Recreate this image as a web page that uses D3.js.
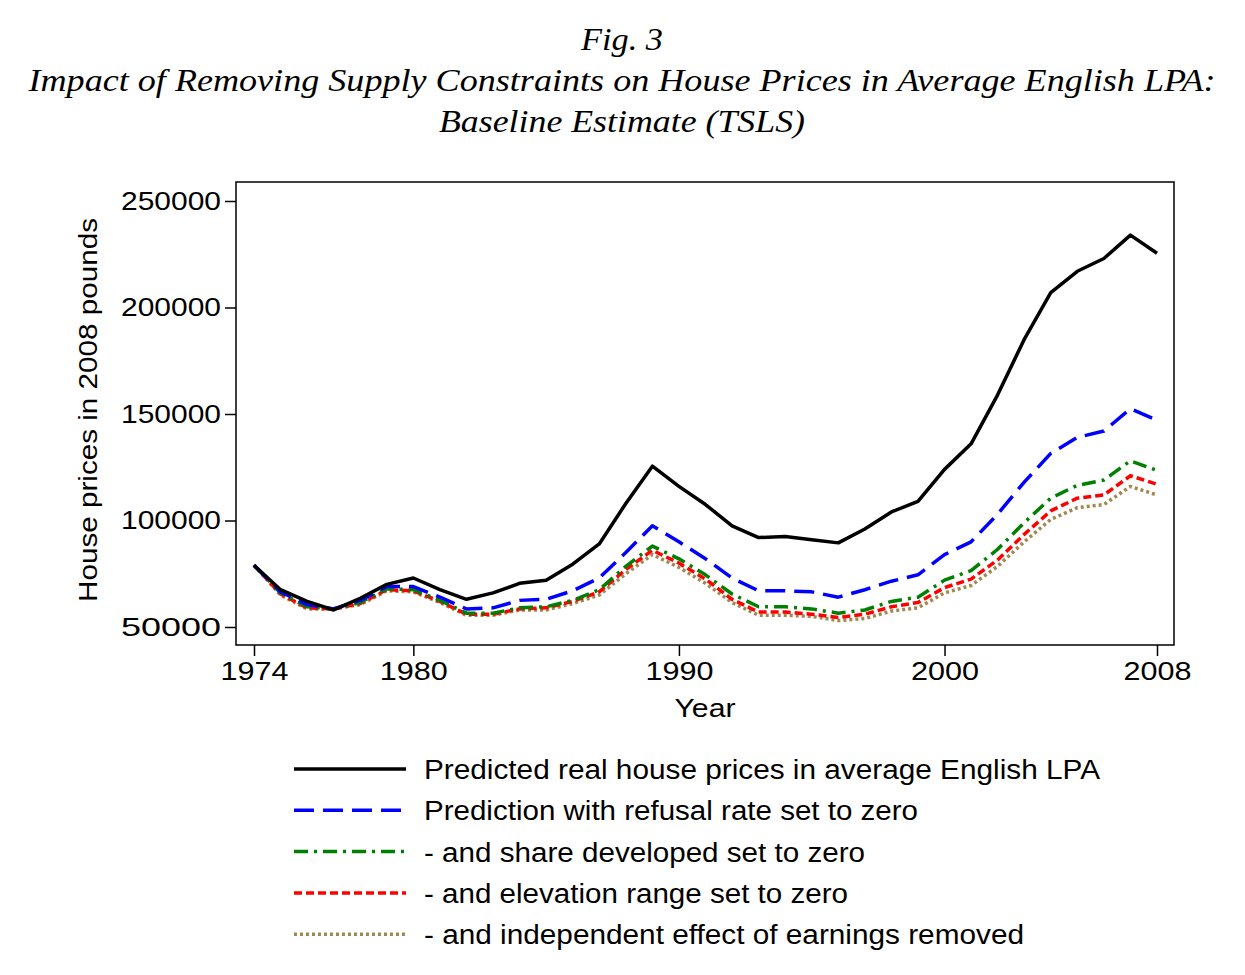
<!DOCTYPE html>
<html>
<head>
<meta charset="utf-8">
<script src="https://cdn.jsdelivr.net/npm/d3@7"></script>
<style>
body { margin: 0; background: #fff; }
text { font-family: "Liberation Sans", Arial, sans-serif; }
.title { font-family: "Liberation Serif", "Times New Roman", serif; font-style: italic; font-size: 32px; }
</style>
</head>
<body>
<svg id="chart" width="1245" height="975"></svg>
<script>
// Data
const years = d3.range(1974, 2009);
const predicted = [79000, 67500, 62000, 58000, 63500, 70000, 73000, 67500, 63000, 66000, 70500, 72000, 79500, 89000, 108000, 125500, 116000, 107500, 97500, 92000, 92500, 91000, 89500, 96000, 104000, 109000, 124000, 136000, 159000, 185000, 207000, 217000, 223000, 234000, 225500];
const refusalZero = [79000, 66500, 60500, 58500, 62500, 69000, 69000, 64000, 58500, 59000, 62500, 63000, 67000, 73000, 85000, 97500, 90000, 82000, 73000, 67000, 67000, 66500, 64000, 67500, 71500, 74500, 84000, 90000, 103000, 118000, 131500, 139000, 142000, 152500, 147000];
const shareZero = [79000, 66000, 59500, 58500, 61500, 68000, 67500, 62500, 56500, 56500, 59000, 59500, 62500, 67500, 78500, 88000, 82000, 74500, 65500, 59500, 59500, 58500, 56500, 58000, 62000, 64000, 72000, 76500, 86500, 99000, 110500, 116500, 119000, 128000, 123500];
const elevationZero = [79000, 65500, 59000, 58500, 61000, 67500, 67000, 62000, 56000, 56000, 58500, 59000, 62000, 66500, 77000, 86000, 80000, 72500, 63000, 57000, 57000, 56000, 54500, 56000, 59500, 61500, 68500, 72500, 81500, 93500, 104500, 110500, 112000, 121000, 117000];
const earningsRemoved = [79000, 65000, 58500, 58500, 60500, 67000, 66500, 61500, 55500, 55500, 58000, 58000, 61000, 65000, 75000, 84000, 78000, 70500, 61500, 55500, 55500, 55000, 53000, 54000, 57500, 59000, 66000, 69500, 78500, 90000, 100500, 106000, 107500, 116000, 112000];
const seriesNames = [
    "Predicted real house prices in average English LPA",
    "Prediction with refusal rate set to zero",
    "- and share developed set to zero",
    "- and elevation range set to zero",
    "- and independent effect of earnings removed"
];
const xTicks = [1974, 1980, 1990, 2000, 2008];
const yTicks = [50000, 100000, 150000, 200000, 250000];

// widths of the texts as they appear in the reference (font is wider there)
const titleWidths = [82, 1187, 366];
const legendWidths = [676, 494, 441, 424, 600];

const series = [
    { name: seriesNames[0], values: predicted, color: "#000000", dash: null, width: 3.5 },
    { name: seriesNames[1], values: refusalZero, color: "#0000ff", dash: "20,9", width: 3.5 },
    { name: seriesNames[2], values: shareZero, color: "#008000", dash: "14,6,3,6", width: 3.5 },
    { name: seriesNames[3], values: elevationZero, color: "#ff0000", dash: "8,4", width: 3.5 },
    { name: seriesNames[4], values: earningsRemoved, color: "#a08850", dash: "3,3", width: 3.5 }
];

const svg = d3.select("#chart");
const box = { left: 236, right: 1174, top: 182, bottom: 645 };

// Title
const titleLines = ["Fig. 3", "Impact of Removing Supply Constraints on House Prices in Average English LPA:", "Baseline Estimate (TSLS)"];
svg.selectAll(".title")
    .data(titleLines)
    .enter()
    .append("text")
    .attr("class", "title")
    .attr("x", 622)
    .attr("y", (d, i) => 50 + i * 41)
    .attr("text-anchor", "middle")
    .attr("textLength", (d, i) => titleWidths[i])
    .attr("lengthAdjust", "spacingAndGlyphs")
    .text(d => d);

const x = d3.scaleLinear().domain([1974, 2008]).range([254, 1157]);
const y = d3.scaleLinear().domain([50000, 250000]).range([627, 201]);

svg.append("rect")
    .attr("x", box.left).attr("y", box.top)
    .attr("width", box.right - box.left).attr("height", box.bottom - box.top)
    .attr("fill", "none").attr("stroke", "#000").attr("stroke-width", 1.5);

const yAxis = svg.append("g")
    .attr("transform", `translate(${box.left},0)`)
    .call(d3.axisLeft(y).tickValues(yTicks).tickSize(11).tickPadding(4).tickFormat(d3.format("d")));
const xAxis = svg.append("g")
    .attr("transform", `translate(0,${box.bottom})`)
    .call(d3.axisBottom(x).tickValues(xTicks).tickSize(11).tickPadding(6).tickFormat(d3.format("d")));
[yAxis, xAxis].forEach(a => {
    a.select(".domain").remove();
    a.selectAll("line").attr("stroke-width", 1.5);
    a.selectAll("text").attr("font-size", 26).attr("fill", "#000")
        .style("font-family", '"Liberation Sans", Arial, sans-serif');
});
yAxis.selectAll("text").attr("textLength", 100).attr("lengthAdjust", "spacingAndGlyphs");
xAxis.selectAll("text").attr("textLength", 68).attr("lengthAdjust", "spacingAndGlyphs");

svg.append("text")
    .attr("x", 705).attr("y", 717)
    .attr("text-anchor", "middle").attr("font-size", 26)
    .attr("textLength", 61).attr("lengthAdjust", "spacingAndGlyphs")
    .text("Year");
svg.append("text")
    .attr("transform", "translate(97,410) rotate(-90)")
    .attr("text-anchor", "middle").attr("font-size", 26)
    .attr("textLength", 384).attr("lengthAdjust", "spacingAndGlyphs")
    .text("House prices in 2008 pounds");

const line = d3.line()
    .x((d, i) => x(years[i]))
    .y(d => y(d));

svg.selectAll(".series")
    .data(series.slice().reverse())
    .enter()
    .append("path")
    .attr("fill", "none")
    .attr("stroke", d => d.color)
    .attr("stroke-width", d => d.width)
    .attr("stroke-dasharray", d => d.dash)
    .attr("stroke-linejoin", "round")
    .attr("d", d => line(d.values));

// Legend
const legend = svg.selectAll(".legend")
    .data(series)
    .enter()
    .append("g")
    .attr("transform", (d, i) => `translate(0,${769 + i * 41.3})`);
legend.append("line")
    .attr("x1", 294).attr("x2", 406)
    .attr("stroke", d => d.color)
    .attr("stroke-width", d => d.width)
    .attr("stroke-dasharray", d => d.dash);
legend.append("text")
    .attr("x", 424).attr("y", 10)
    .attr("font-size", 27)
    .attr("textLength", (d, i) => legendWidths[i])
    .attr("lengthAdjust", "spacingAndGlyphs")
    .text(d => d.name);
</script>
</body>
</html>
